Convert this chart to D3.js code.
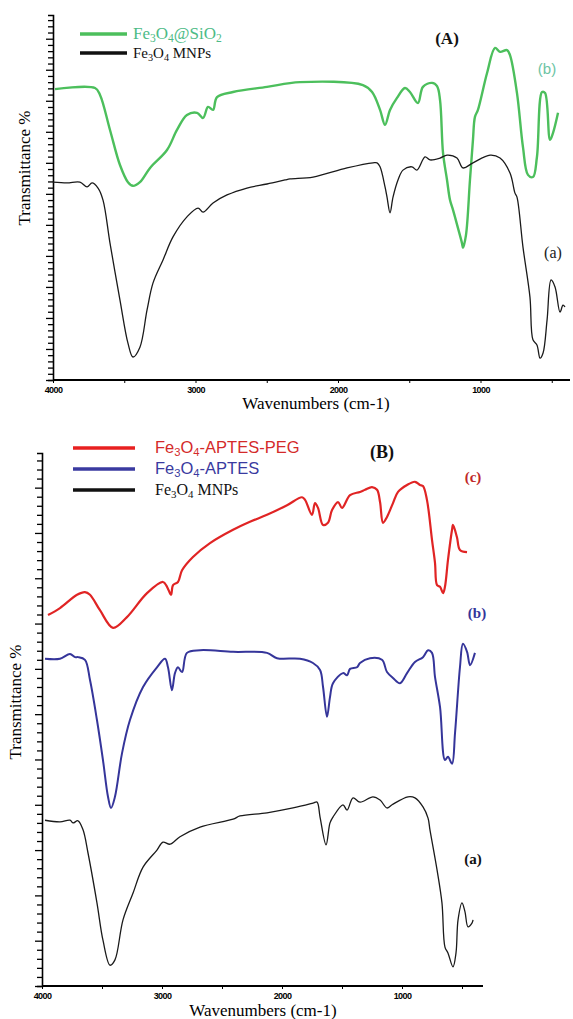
<!DOCTYPE html>
<html>
<head>
<meta charset="utf-8">
<script src="https://cdn.jsdelivr.net/npm/d3@7"></script>
<style>
  body { margin: 0; background: #fff; }
  svg { display: block; }
</style>
</head>
<body>
<script>
// FT-IR spectra, [wavenumber cm-1, transmittance %]

// panel A
var silicaA = [[3986,79.7],[3705,80.0],[3670,78.1],[3600,68.5],[3530,58.9],[3474,54.2],[3439,53.2],
  [3390,54.2],[3319,58.1],[3200,63.0],[3130,68.5],[3060,72.6],[2989,73.2],[2947,71.8],[2912,74.8],
  [2877,74.0],[2849,77.5],[2737,78.9],[2498,80.3],[2267,81.6],[1825,80.8],[1761,78.9],[1705,74.0],
  [1670,69.9],[1635,74.0],[1586,77.3],[1530,80.0],[1495,78.9],[1439,75.9],[1404,80.3],[1340,81.4],
  [1305,80.5],[1284,76.7],[1263,62.2],[1235,54.8],[1214,49.3],[1193,46.6],[1158,41.6],[1130,37.5],
  [1123,36.2],[1102,39.7],[1074,54.8],[1053,65.8],[1039,72.1],[1018,74.0],[954,84.1],[898,91.0],
  [863,89.9],[814,90.4],[793,89.0],[744,78.6],[702,63.8],[667,56.2],[632,55.6],[604,61.1],
  [568,78.9],[547,78.6],[512,65.8],[491,67.7],[456,73.2]];

var mnpA = [[4000,54.2],[3902,54.0],[3811,54.2],[3761,52.9],[3726,54.0],[3684,52.6],[3649,49.3],
  [3600,37.5],[3530,21.9],[3474,10.1],[3439,6.3],[3390,9.0],[3340,19.2],[3298,26.6],[3228,32.9],
  [3158,39.2],[3060,44.7],[2982,47.1],[2947,46.0],[2877,48.5],[2779,50.7],[2639,52.6],[2498,53.7],
  [2372,54.8],[2337,55.1],[2175,55.6],[1937,58.1],[1754,59.5],[1726,59.5],[1705,58.4],[1670,52.9],
  [1656,50.1],[1635,45.8],[1614,50.1],[1579,54.8],[1544,57.5],[1481,58.4],[1446,57.5],[1389,61.1],
  [1354,60.3],[1284,60.8],[1235,61.6],[1165,60.8],[1123,58.1],[1053,59.5],[933,61.6],[863,60.8],
  [793,56.7],[758,51.2],[744,50.1],[702,36.4],[653,22.7],[632,11.0],[604,9.6],[582,6.0],[561,7.4],
  [533,16.4],[505,27.4],[477,25.5],[442,18.6],[421,20.5],[407,20.0]];

// panel B
var pegB = [[3950,69.6],[3850,70.9],[3708,73.4],[3642,73.9],[3600,73.4],[3517,70.5],[3408,67.2],
  [3292,69.2],[3125,73.7],[2992,75.8],[2958,74.9],[2925,73.4],[2908,75.2],[2867,75.8],[2833,78.0],
  [2742,80.5],[2600,83.1],[2408,85.6],[2267,87.1],[2125,88.4],[1958,90.2],[1833,91.7],[1808,91.2],
  [1750,88.4],[1725,90.6],[1700,89.7],[1658,86.5],[1617,86.9],[1583,89.3],[1533,90.8],[1500,89.7],
  [1433,92.1],[1350,92.7],[1308,93.1],[1250,93.6],[1208,93.1],[1183,90.8],[1158,86.9],[1125,88.0],
  [1075,90.6],[1033,92.7],[958,94.0],[892,94.6],[850,94.0],[825,93.8],[792,91.2],[750,83.7],
  [725,79.4],[708,75.2],[683,74.9],[658,73.7],[642,74.9],[617,79.9],[583,85.6],[575,86.5],
  [542,84.2],[517,81.8],[458,81.4]];

var aptesB = [[3975,61.4],[3850,61.4],[3767,62.3],[3725,61.7],[3700,61.7],[3642,61.2],[3600,57.4],
  [3542,49.9],[3492,42.4],[3450,35.5],[3425,33.4],[3392,35.5],[3333,43.7],[3267,49.9],[3158,56.1],
  [3042,59.8],[2975,61.4],[2950,59.8],[2917,55.5],[2892,58.7],[2867,59.8],[2833,58.9],[2792,62.5],
  [2683,63.0],[2408,62.7],[2125,62.5],[2042,61.5],[1850,61.4],[1742,60.6],[1683,59.3],[1658,56.1],
  [1625,50.5],[1600,54.2],[1575,56.8],[1492,58.7],[1458,58.3],[1433,59.5],[1375,59.8],[1350,60.6],
  [1267,61.5],[1167,61.2],[1125,58.9],[1075,57.8],[1017,56.8],[958,58.7],[892,60.8],[825,61.7],
  [783,63.0],[750,62.5],[725,58.0],[683,52.3],[642,42.4],[617,43.0],[583,41.7],[558,47.5],
  [517,59.8],[492,64.2],[458,62.7],[433,60.2],[392,62.5]];

var mnpB = [[3975,31.1],[3850,30.8],[3767,31.1],[3742,30.6],[3700,31.0],[3658,29.3],[3617,25.0],
  [3542,15.6],[3492,8.6],[3433,3.9],[3392,4.9],[3325,12.4],[3242,17.4],[3158,22.3],[3042,25.5],
  [2992,27.0],[2933,26.6],[2850,28.0],[2683,29.8],[2408,31.3],[2350,31.9],[2125,32.5],[1908,33.4],
  [1742,34.3],[1708,34.5],[1683,31.7],[1633,26.5],[1600,30.6],[1575,31.7],[1492,34.0],[1458,33.0],
  [1408,35.3],[1350,34.5],[1242,35.5],[1183,34.9],[1125,33.4],[1083,34.0],[950,35.5],[892,35.3],
  [825,33.6],[783,31.5],[767,29.3],[708,21.8],[667,15.6],[642,7.3],[617,6.2],[575,3.6],[550,6.2],
  [533,12.4],[500,15.6],[475,13.9],[450,11.1],[417,11.8],[408,12.4]];

var xTickLabels = [4000, 3000, 2000, 1000];
var xLabel = "Wavenumbers (cm-1)";
var yLabel = "Transmittance %";

var serif = "'Liberation Serif', 'Times New Roman', serif";
var sans = "'Liberation Sans', Arial, sans-serif";

var svg = d3.select("body").append("svg")
    .attr("width", 573)
    .attr("height", 1019);

// writes chemical formulas; arrays inside parts are subscripts
function formula(text, parts, size) {
  var shift = size * 0.2, down = false;
  parts.forEach(function(p) {
    var t = text.append("tspan");
    if (Array.isArray(p)) {
      t.attr("font-size", size * 0.68).attr("dy", shift).text(p[0]);
      down = true;
    } else {
      if (down) t.attr("dy", -shift);
      down = false;
      t.text(p);
    }
  });
  return text;
}

function panel(opt) {
  var x = d3.scaleLinear()
      .domain([4000, opt.wnEnd])
      .range([opt.left, opt.right]);
  var y = d3.scaleLinear()
      .domain([0, 100])
      .range([opt.bottom, opt.top]);

  var g = svg.append("g");

  // y axis: dense ticks, no numbers
  var yAxis = g.append("g")
      .attr("transform", "translate(" + opt.left + ",0)")
      .call(d3.axisLeft(y).tickValues(d3.range(0, 100.1, 1.7)).tickSize(5).tickFormat(""));
  yAxis.select(".domain").attr("stroke-width", 1.6);
  yAxis.selectAll(".tick text").remove();
  yAxis.selectAll(".tick line").attr("stroke-width", 1.3)
      .attr("x2", function(d, i) { return i % 5 == 0 ? -7 : -5; });

  // x axis, minor ticks every 500
  var xAxis = g.append("g")
      .attr("transform", "translate(0," + opt.bottom + ")")
      .call(d3.axisBottom(x).tickValues(d3.range(4000, opt.wnEnd, -500)).tickSize(3)
        .tickFormat(function(d) { return xTickLabels.indexOf(d) >= 0 ? d : ""; }));
  xAxis.select(".domain").attr("stroke-width", 2.2).attr("d", "M" + opt.left + ",0H" + opt.right);
  xAxis.selectAll(".tick text")
      .filter(function(d) { return xTickLabels.indexOf(d) < 0; })
      .remove();
  xAxis.selectAll(".tick text")
      .attr("y", 7)
      .attr("font-family", sans)
      .attr("font-weight", "bold")
      .attr("font-size", 9)
      .attr("letter-spacing", -0.6);

  var line = d3.line()
      .x(function(d) { return x(d[0]); })
      .y(function(d) { return y(d[1]); })
      .curve(d3.curveCatmullRom.alpha(0.5));

  opt.series.forEach(function(s) {
    g.append("path")
        .datum(s.data)
        .attr("fill", "none")
        .attr("stroke", s.color)
        .attr("stroke-width", s.width)
        .attr("stroke-linejoin", "round")
        .attr("d", line);
  });

  g.append("text")
      .attr("x", opt.xLabelX).attr("y", opt.xLabelY)
      .attr("text-anchor", "middle")
      .attr("font-family", serif).attr("font-size", 17)
      .text(xLabel);

  g.append("text")
      .attr("transform", "translate(" + opt.yLabelX + "," + opt.yLabelY + ") rotate(-90)")
      .attr("text-anchor", "middle")
      .attr("font-family", serif).attr("font-size", 17)
      .text(yLabel);

  // legend
  opt.legend.forEach(function(l, i) {
    var ly = opt.legendY + i * opt.legendStep;
    g.append("line")
        .attr("x1", opt.legendX1).attr("x2", opt.legendX2)
        .attr("y1", ly).attr("y2", ly)
        .attr("stroke", l.color).attr("stroke-width", 3.5);
    formula(g.append("text")
        .attr("x", opt.legendTextX).attr("y", ly + 5)
        .attr("fill", l.textColor)
        .attr("font-family", l.font).attr("font-size", l.size), l.parts, l.size);
  });

  opt.notes.forEach(function(n) {
    g.append("text")
        .attr("x", n.x).attr("y", n.y)
        .attr("text-anchor", "middle")
        .attr("fill", n.color)
        .attr("font-family", n.font)
        .attr("font-weight", n.bold ? "bold" : "normal")
        .attr("font-size", n.size)
        .text(n.text);
  });
}

panel({
  left: 53, right: 570, top: 15, bottom: 380, wnEnd: 372,
  xLabelX: 316, xLabelY: 409, yLabelX: 30, yLabelY: 168,
  series: [
    {data: silicaA, color: "#4cbf5c", width: 2.4},
    {data: mnpA, color: "#1a1a1a", width: 1.3}
  ],
  legendX1: 80, legendX2: 127, legendY: 34, legendStep: 19, legendTextX: 133,
  legend: [
    {color: "#4cbf5c", textColor: "#4dbb86", font: serif, size: 17, parts: ["Fe", ["3"], "O", ["4"], "@SiO", ["2"]]},
    {color: "#111", textColor: "#111", font: serif, size: 15, parts: ["Fe", ["3"], "O", ["4"], " MNPs"]}
  ],
  notes: [
    {text: "(A)", x: 447, y: 44, color: "#111", font: serif, bold: true, size: 17},
    {text: "(b)", x: 547, y: 74, color: "#6cc4a4", font: sans, bold: false, size: 15},
    {text: "(a)", x: 553, y: 258, color: "#222", font: serif, bold: false, size: 16}
  ]
});

panel({
  left: 42, right: 483, top: 453, bottom: 986, wnEnd: 325,
  xLabelX: 263, xLabelY: 1016, yLabelX: 21, yLabelY: 702,
  series: [
    {data: pegB, color: "#e02424", width: 2.2},
    {data: aptesB, color: "#35359a", width: 2.0},
    {data: mnpB, color: "#1a1a1a", width: 1.3}
  ],
  legendX1: 73, legendX2: 135, legendY: 448, legendStep: 21, legendTextX: 155,
  legend: [
    {color: "#e82020", textColor: "#d42a2a", font: sans, size: 16.5, parts: ["Fe", ["3"], "O", ["4"], "-APTES-PEG"]},
    {color: "#3a3aa0", textColor: "#3a3aa0", font: sans, size: 16.5, parts: ["Fe", ["3"], "O", ["4"], "-APTES"]},
    {color: "#111", textColor: "#111", font: serif, size: 16, parts: ["Fe", ["3"], "O", ["4"], " MNPs"]}
  ],
  notes: [
    {text: "(B)", x: 382, y: 458, color: "#111", font: serif, bold: true, size: 18},
    {text: "(c)", x: 473, y: 482, color: "#c02828", font: serif, bold: true, size: 15},
    {text: "(b)", x: 477, y: 618, color: "#35359a", font: serif, bold: true, size: 15},
    {text: "(a)", x: 473, y: 864, color: "#111", font: serif, bold: true, size: 15}
  ]
});
</script>
</body>
</html>
